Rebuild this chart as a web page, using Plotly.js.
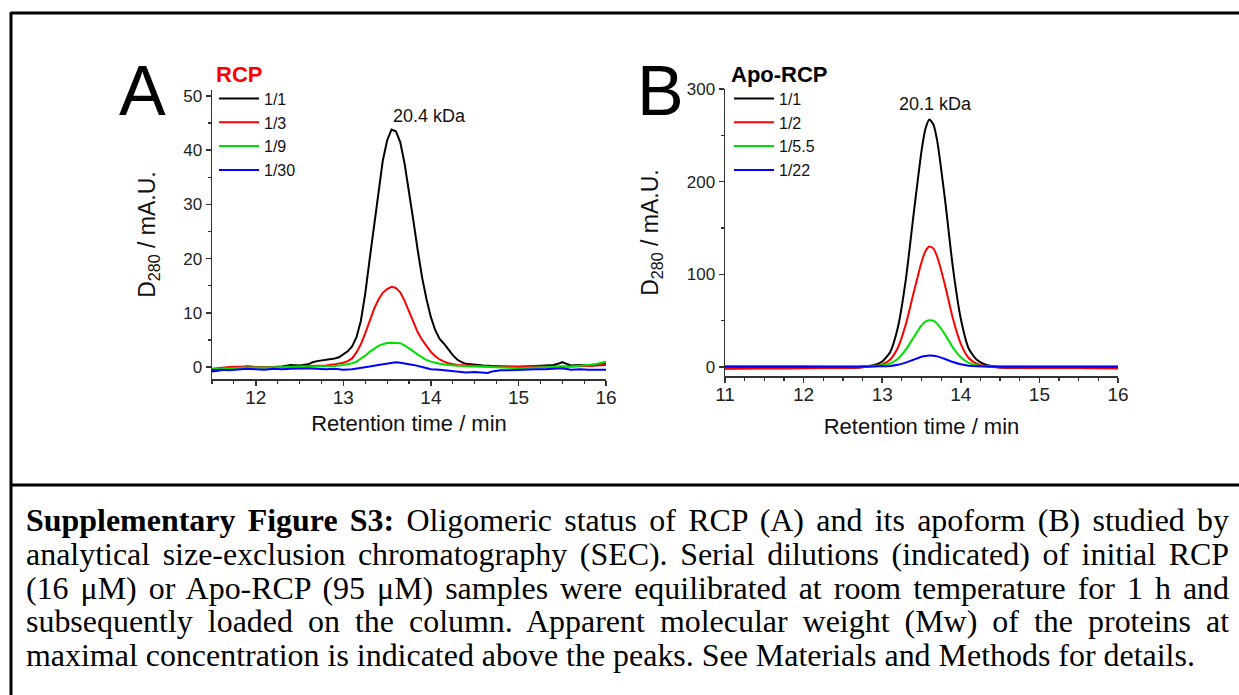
<!DOCTYPE html>
<html>
<head>
<meta charset="utf-8">
<script src="https://cdn.plot.ly/plotly-3.0.1.min.js"></script>
<style>
  html, body { margin: 0; padding: 0; background: #fff; }
  #wrap { position: relative; width: 1239px; height: 695px; overflow: hidden; }
  #chart { position: absolute; left: 0; top: 0; width: 1239px; height: 695px; }
  #caption { position: absolute; left: 26px; top: 504px; font-family: "Liberation Serif", "Times New Roman", serif; color: #000; }
  #caption .ln { text-align: justify; text-align-last: justify; }
  #caption .ln.last { text-align: left; text-align-last: left; }
</style>
</head>
<body>
<div id="wrap">
  <div id="chart"></div>
  <div id="caption"></div>
</div>
<script>
// ---------------- DATA ----------------
// Panel A : RCP dilutions
const labelsA = ['1/1', '1/3', '1/9', '1/30'];
const timeA_1 = [11.5,11.6,11.7,11.8,11.9,12.0,12.1,12.2,12.3,12.4,12.5,12.6,12.65,12.7,12.8,12.9,12.95,13.0,13.05,13.1,13.15,13.2,13.25,13.3,13.35,13.4,13.45,13.5,13.55,13.6,13.65,13.7,13.75,13.8,13.85,13.9,13.95,14.0,14.05,14.1,14.15,14.2,14.25,14.3,14.35,14.4,14.5,14.6,14.7,14.8,14.9,15.0,15.1,15.2,15.3,15.4,15.45,15.5,15.55,15.6,15.7,15.8,15.9,16.0];
const valA_1  = [-0.8,-0.6,-0.3,-0.2,0.1,0.0,-0.1,0.0,0.1,0.4,0.3,0.5,0.9,1.1,1.3,1.6,1.8,2.3,2.9,3.8,5.5,8.5,13.5,19.8,26,32.5,38,41.8,43.8,43.5,41.5,37.5,32.5,27,21.5,16.5,12.5,9.2,6.8,5.2,4.3,3.2,2.2,1.4,0.9,0.6,0.4,0.3,0.2,0.1,0.0,0.0,0.1,0.2,0.3,0.4,0.6,0.9,0.6,0.3,0.4,0.3,0.4,0.6];
const timeA_3 = [11.5,11.7,11.9,12.0,12.2,12.4,12.6,12.8,12.9,13.0,13.05,13.1,13.15,13.2,13.25,13.3,13.35,13.4,13.45,13.5,13.55,13.6,13.65,13.7,13.75,13.8,13.85,13.9,13.95,14.0,14.05,14.1,14.15,14.2,14.3,14.5,14.7,15.0,15.2,15.4,15.6,15.8,16.0];
const valA_3  = [-0.3,0.0,0.1,0.0,0.0,0.1,0.2,0.3,0.5,0.8,1.1,1.6,2.7,4.2,6.2,8.5,10.7,12.4,13.7,14.4,14.8,14.6,13.8,12.2,10.2,8.2,6.4,5.0,3.8,2.8,2.0,1.4,1.0,0.7,0.4,0.2,0.1,0.1,0.1,0.0,0.1,0.2,0.4];
const timeA_9 = [11.5,11.7,11.9,12.1,12.3,12.5,12.7,12.9,13.0,13.1,13.15,13.2,13.25,13.3,13.35,13.4,13.45,13.5,13.55,13.6,13.65,13.7,13.75,13.8,13.85,13.9,13.95,14.0,14.1,14.2,14.3,14.5,14.7,14.9,15.0,15.2,15.4,15.6,15.8,15.9,16.0];
const valA_9  = [-0.4,-0.2,-0.1,-0.1,0.0,0.0,0.1,0.2,0.4,0.7,1.0,1.5,2.1,2.8,3.4,3.9,4.2,4.45,4.5,4.5,4.4,4.0,3.5,2.9,2.3,1.8,1.3,1.0,0.6,0.4,0.25,0.1,0.0,-0.1,-0.2,-0.1,0.0,0.1,0.4,0.6,1.0];
const timeA_30 = [11.5,11.6,11.7,11.8,11.9,12.0,12.1,12.2,12.3,12.4,12.5,12.6,12.7,12.8,12.9,13.0,13.1,13.2,13.3,13.4,13.5,13.6,13.65,13.7,13.8,13.9,14.0,14.1,14.2,14.3,14.4,14.5,14.6,14.65,14.7,14.8,14.9,15.0,15.1,15.2,15.3,15.4,15.5,15.6,15.7,15.8,15.9,16.0];
const valA_30  = [-0.6,-0.5,-0.6,-0.4,-0.3,-0.4,-0.5,-0.3,-0.4,-0.3,-0.25,-0.2,-0.3,-0.4,-0.3,-0.5,-0.4,-0.2,0.1,0.4,0.6,0.9,0.8,0.7,0.4,0.0,-0.4,-0.5,-0.7,-0.8,-1.0,-0.9,-1.0,-1.1,-0.8,-0.6,-0.6,-0.5,-0.5,-0.4,-0.4,-0.3,-0.2,-0.5,-0.4,-0.5,-0.5,-0.5];

// Panel B : Apo-RCP dilutions
const labelsB = ['1/1', '1/2', '1/5.5', '1/22'];
const timeB = [11,11.5,12,12.5,12.7,12.8,12.9,13.0,13.1,13.2,13.3,13.4,13.5,13.55,13.6,13.65,13.7,13.8,13.9,14.0,14.1,14.2,14.3,14.4,14.5,15,15.5,16];
const valB_1   = [-1.5,-1.4,-1.2,-0.8,-0.4,0.8,2.2,6,16,43,94,165,233,257,267,262,244,180,107,52,20,8,3,0.8,-0.4,-1.0,-1.2,-1.4];
const valB_2   = [-1.5,-1.4,-1.3,-1.0,-0.6,0.2,1.0,2.8,7.8,21,46,80,113,125,130,128,119,88,52,25,9.7,3.6,1.2,0.0,-0.6,-1.0,-1.2,-1.4];
const valB_5_5 = [1.2,1.1,1.0,0.9,0.9,1.0,1.3,1.9,3.8,9,18.7,32,45,49,50.5,50,46.5,35,21,10.5,4.5,2.0,1.1,0.9,0.8,0.8,0.8,0.8];
const valB_22  = [0.4,0.4,0.4,0.4,0.4,0.5,0.6,0.8,1.2,2.4,4.7,7.9,11,12,12.3,12.2,11.5,8.6,5.4,2.9,1.4,0.8,0.6,0.5,0.4,0.4,0.4,0.4];

const ticksA_y = [0, 10, 20, 30, 40, 50];
const ticksB_y = [0, 100, 200, 300];
const mwA = '20.4 kDa';
const mwB = '20.1 kDa';

const captionLines = [
  '<b>Supplementary Figure S3:</b> Oligomeric status of RCP (A) and its apoform (B) studied by',
  'analytical size-exclusion chromatography (SEC). Serial dilutions (indicated) of initial RCP',
  '(16 μM) or Apo-RCP (95 μM) samples were equilibrated at room temperature for 1 h and',
  'subsequently loaded on the column. Apparent molecular weight (Mw) of the proteins at',
  'maximal concentration is indicated above the peaks. See Materials and Methods for details.'
];

// ---------------- STYLE ----------------
const W = 1239, H = 695;
const colors = ['#000000', '#ff0000', '#00e000', '#0000ff'];
const px = v => v / W;
const py = v => 1 - v / H;
const FONT = 'Liberation Sans, Arial, sans-serif';
const axisCol = '#333333';

function line(x, y, name, color, xa, ya, leg, shape) {
  return { x: x, y: y, name: name, type: 'scatter', mode: 'lines',
    line: { color: color, width: 2, shape: shape || 'linear', smoothing: 0.6 },
    xaxis: xa, yaxis: ya, legend: leg, hoverinfo: 'skip' };
}

const traces = [
  line(timeA_1, valA_1, labelsA[0], colors[0], 'x', 'y', 'legend'),
  line(timeA_3, valA_3, labelsA[1], colors[1], 'x', 'y', 'legend'),
  line(timeA_9, valA_9, labelsA[2], colors[2], 'x', 'y', 'legend'),
  line(timeA_30, valA_30, labelsA[3], colors[3], 'x', 'y', 'legend'),
  line(timeB, valB_1, labelsB[0], colors[0], 'x2', 'y2', 'legend2', 'spline'),
  line(timeB, valB_2, labelsB[1], colors[1], 'x2', 'y2', 'legend2', 'spline'),
  line(timeB, valB_5_5, labelsB[2], colors[2], 'x2', 'y2', 'legend2', 'spline'),
  line(timeB, valB_22, labelsB[3], colors[3], 'x2', 'y2', 'legend2', 'spline')
];

function xAxis(domain, range, anchor, standoff) {
  return { domain: domain, range: range, anchor: anchor, dtick: 1, tick0: 0,
    showline: true, linecolor: axisCol, linewidth: 1.5, ticks: 'outside', ticklen: 5, tickwidth: 1.5, tickcolor: axisCol,
    ticklabelstandoff: -4,
    minor: { dtick: 0.25, ticks: 'outside', ticklen: 3, tickwidth: 1.2, tickcolor: axisCol },
    showgrid: false, zeroline: false, tickfont: { family: FONT, size: 19, color: '#222' },
    title: { text: 'Retention time / min', font: { family: FONT, size: 22, color: '#111' }, standoff: standoff } };
}
function yAxis(domain, range, anchor, tickvals, minorD) {
  return { domain: domain, range: range, anchor: anchor, tickvals: tickvals,
    showline: true, linecolor: axisCol, linewidth: 1.5, ticks: 'outside', ticklen: 5, tickwidth: 1.5, tickcolor: axisCol,
    minor: { dtick: minorD, tick0: 0, ticks: 'outside', ticklen: 3, tickwidth: 1.2, tickcolor: axisCol },
    showgrid: false, zeroline: false, tickfont: { family: FONT, size: 17, color: '#222' },
    title: { text: 'D<sub>280</sub> / mA.U.', font: { family: FONT, size: 23, color: '#111' }, standoff: 21 } };
}

const layout = {
  width: W, height: H, margin: { l: 0, r: 0, t: 0, b: 0 },
  paper_bgcolor: '#fff', plot_bgcolor: 'rgba(0,0,0,0)', showlegend: true,
  xaxis: xAxis([px(212), px(606)], [11.5, 16], 'y', 8),
  yaxis: yAxis([py(379), py(90)], [-2.2, 51.1], 'x', ticksA_y, 5),
  xaxis2: xAxis([px(725), px(1118)], [11, 16], 'y2', 14),
  yaxis2: yAxis([py(376), py(89)], [-9.7, 300], 'x2', ticksB_y, 50),
  legend: { x: px(214), y: py(53), xanchor: 'left', yanchor: 'top', bgcolor: 'rgba(0,0,0,0)',
    font: { family: FONT, size: 16, color: '#111' }, itemwidth: 40, tracegroupgap: 0,
    title: { text: '<b>RCP</b>', font: { family: FONT, size: 22, color: '#ff0000' } } },
  legend2: { x: px(729), y: py(53), xanchor: 'left', yanchor: 'top', bgcolor: 'rgba(0,0,0,0)',
    font: { family: FONT, size: 16, color: '#111' }, itemwidth: 40, tracegroupgap: 0,
    title: { text: '<b>Apo-RCP</b>', font: { family: FONT, size: 22, color: '#000' } } },
  annotations: [
    { text: 'A', xref: 'paper', yref: 'paper', x: px(142), y: py(91), xanchor: 'center', yanchor: 'middle', showarrow: false,
      font: { family: FONT, size: 70, color: '#000' } },
    { text: 'B', xref: 'paper', yref: 'paper', x: px(660), y: py(91), xanchor: 'center', yanchor: 'middle', showarrow: false,
      font: { family: FONT, size: 70, color: '#000' } },
    { text: mwA, xref: 'x', yref: 'y', x: 13.98, y: 46.3, xanchor: 'center', yanchor: 'middle', showarrow: false,
      font: { family: FONT, size: 18, color: '#111' } },
    { text: mwB, xref: 'x2', yref: 'y2', x: 13.68, y: 283.7, xanchor: 'center', yanchor: 'middle', showarrow: false,
      font: { family: FONT, size: 18, color: '#111' } }
  ],
  shapes: [
    { type: 'line', xref: 'paper', yref: 'paper', x0: px(11), x1: 1, y0: py(13), y1: py(13), line: { color: '#000', width: 3 } },
    { type: 'line', xref: 'paper', yref: 'paper', x0: px(11), x1: px(11), y0: py(12), y1: 0, line: { color: '#000', width: 3 } },
    { type: 'line', xref: 'paper', yref: 'paper', x0: px(11), x1: 1, y0: py(485), y1: py(485), line: { color: '#000', width: 3 } }
  ]
};

Plotly.newPlot('chart', traces, layout, { staticPlot: true, displayModeBar: false });

// ---------------- CAPTION (justified text) ----------------
(function () {
  const cap = document.getElementById('caption');
  const probe = document.createElement('span');
  probe.style.cssText = 'position:absolute;visibility:hidden;white-space:nowrap;font-family:"Liberation Serif","Times New Roman",serif;font-size:24px;';
  probe.innerHTML = captionLines[4];
  document.body.appendChild(probe);
  const w24 = probe.getBoundingClientRect().width;
  document.body.removeChild(probe);
  const fs = 24 * 1169 / w24;
  cap.style.fontSize = fs + 'px';
  cap.style.lineHeight = '33.75px';
  cap.style.width = '1203px';
  captionLines.forEach((t, i) => {
    const d = document.createElement('div');
    d.className = 'ln' + (i === captionLines.length - 1 ? ' last' : '');
    d.innerHTML = t;
    cap.appendChild(d);
  });
})();
</script>
</body>
</html>
